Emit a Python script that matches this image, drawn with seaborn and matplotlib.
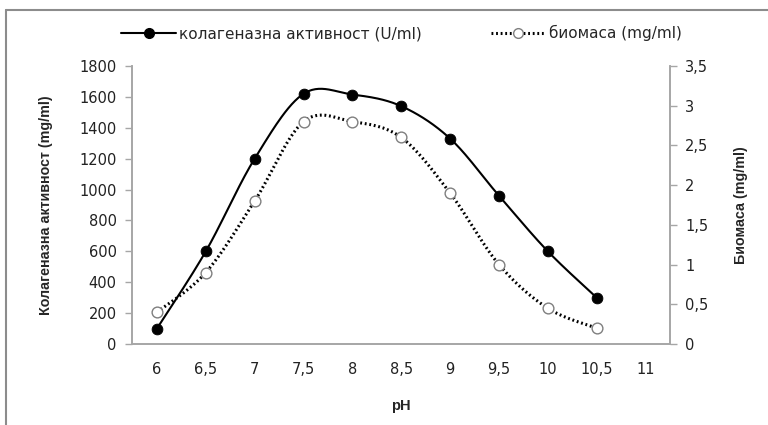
import numpy as np
import pandas as pd
import matplotlib
matplotlib.use("Agg")
import matplotlib.pyplot as plt
import seaborn as sns
from matplotlib.lines import Line2D

# values
ph = [6, 6.5, 7, 7.5, 8, 8.5, 9, 9.5, 10, 10.5]
collagenase = [100, 600, 1200, 1620, 1615, 1540, 1330, 960, 600, 300]
biomass = [0.40, 0.90, 1.80, 2.80, 2.80, 2.60, 1.90, 1.00, 0.45, 0.20]
x_ticks = [6, 6.5, 7, 7.5, 8, 8.5, 9, 9.5, 10, 10.5, 11]
left_ticks = list(range(0, 1801, 200))
right_ticks = [0, 0.5, 1, 1.5, 2, 2.5, 3, 3.5]

label_coll = "колагеназна активност (U/ml)"
label_bio = "биомаса (mg/ml)"


def smooth(xs, ys, n=30):
    # Excel style smoothed line: cubic bezier through the points
    p = np.column_stack([xs, ys]).astype(float)
    ext = np.vstack([p[0], p, p[-1]])
    out = []
    t = np.linspace(0, 1, n)[:, None]
    for i in range(len(p) - 1):
        p0, p3 = ext[i + 1], ext[i + 2]
        c1 = p0 + (ext[i + 2] - ext[i]) / 6
        c2 = p3 - (ext[i + 3] - ext[i + 1]) / 6
        seg = ((1 - t) ** 3) * p0 + 3 * ((1 - t) ** 2) * t * c1 + 3 * (1 - t) * t ** 2 * c2 + t ** 3 * p3
        out.append(seg if i == 0 else seg[1:])
    out = np.vstack(out)
    return pd.DataFrame({"x": out[:, 0], "y": out[:, 1]})


sns.set_style("white")
plt.rcParams["font.family"] = ["DejaVu Sans"]

fig = plt.figure(figsize=(7.68, 4.25), dpi=100)
ax = fig.add_axes([0.1719, 0.1906, 0.7005, 0.6541])
ax2 = ax.twinx()

df = pd.DataFrame({"ph": ph, "coll": collagenase, "bio": biomass})

# curves
c1 = smooth(ph, collagenase)
sns.lineplot(data=c1, x="x", y="y", ax=ax, color="black", lw=1.5, sort=False, estimator=None)
c2 = smooth(ph, biomass)
sns.lineplot(data=c2, x="x", y="y", ax=ax2, color="black", lw=2.2, sort=False, estimator=None,
             linestyle=(0, (0.6, 0.9)))

# markers
sns.scatterplot(data=df, x="ph", y="coll", ax=ax, color="black", s=60, edgecolor="black", zorder=5)
sns.scatterplot(data=df, x="ph", y="bio", ax=ax2, color="white", s=60, edgecolor="#7f7f7f",
                linewidth=1, zorder=5)

ax.set_xlim(5.745, 11.25)
ax.set_ylim(0, 1800)
ax2.set_ylim(0, 3.5)
ax.set_xticks(x_ticks)
ax.set_xticklabels([str(v).replace(".", ",") for v in x_ticks])
ax.set_yticks(left_ticks)
ax2.set_yticks(right_ticks)
ax2.set_yticklabels([("%g" % v).replace(".", ",") for v in right_ticks])

spine_c = "#a6a6a6"
for a in (ax, ax2):
    for s in a.spines.values():
        s.set_color(spine_c)
        s.set_linewidth(1.2)
    a.spines["top"].set_visible(False)
    a.grid(False)
    a.tick_params(colors=spine_c, labelcolor="#222222", length=5, width=1, labelsize=10.5, direction="out")
ax.tick_params(axis="x", pad=8)
ax.tick_params(axis="y", pad=6)
ax2.tick_params(axis="y", pad=6)

lab_font = ["Liberation Sans", "DejaVu Sans"]
ax.set_xlabel("pH", fontsize=10.5, fontweight="bold", family=lab_font, labelpad=16)
ax.set_ylabel("Колагеназна активност (mg/ml)", fontsize=10.3, fontweight="bold", family=lab_font, labelpad=19)
ax2.set_ylabel("Биомаса (mg/ml)", fontsize=10.3, fontweight="bold", family=lab_font, labelpad=18)

# legend at the top
handles = [
    Line2D([], [], color="black", lw=1.5, marker="o", markersize=7, markerfacecolor="black"),
    Line2D([], [], color="black", lw=2.2, linestyle=(0, (0.6, 0.9)), marker="o", markersize=7,
           markerfacecolor="white", markeredgecolor="#7f7f7f"),
]
fig.legend(handles, [label_coll, label_bio], loc="center", bbox_to_anchor=(0.523, 1 - 33 / 425),
           ncol=2, frameon=False, handlelength=3.6, columnspacing=4.5, handletextpad=0.2,
           prop={"family": ["DejaVu Sans"], "size": 11})

# outer frame (top and left edges visible)
fig.add_artist(Line2D([6 / 768, 6 / 768], [0, 1 - 10 / 425], color="#8c8c8c", lw=1.5))
fig.add_artist(Line2D([6 / 768, 1], [1 - 10 / 425, 1 - 10 / 425], color="#8c8c8c", lw=1.5))

fig.savefig("out.png", dpi=100)
